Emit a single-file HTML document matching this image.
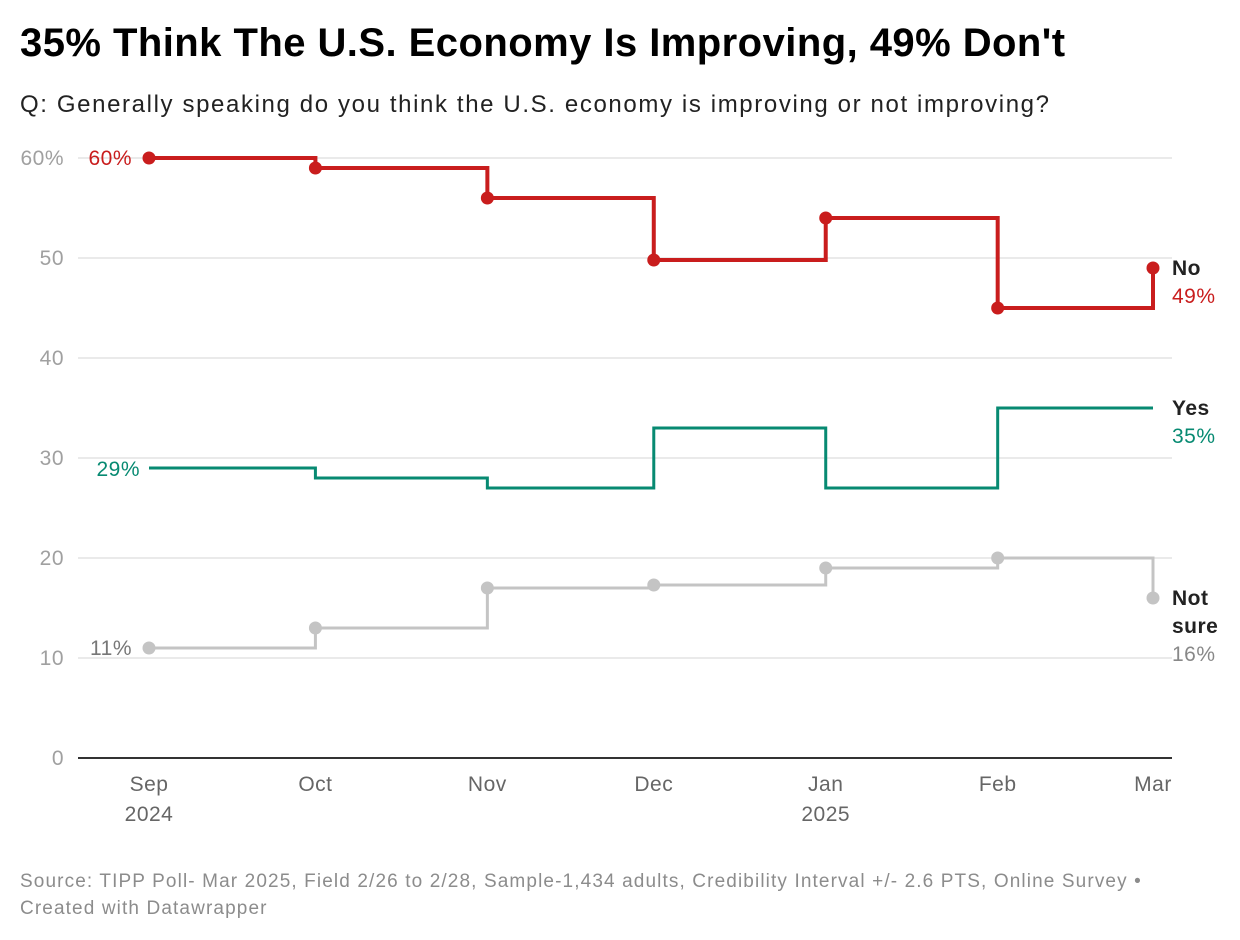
<!DOCTYPE html>
<html><head><meta charset="utf-8"><style>
body{margin:0;background:#fff;font-family:"Liberation Sans",sans-serif;}
#wrap{position:relative;width:1240px;height:940px;overflow:hidden}
h1{position:absolute;left:20px;top:21px;margin:0;font-size:40px;font-weight:bold;color:#000;letter-spacing:0.45px;white-space:nowrap}
.sub{position:absolute;left:20px;top:91px;font-size:24px;color:#222;letter-spacing:1.62px;white-space:nowrap}
.foot{position:absolute;left:20px;top:868px;font-size:19px;color:#8c8c8c;line-height:27px;letter-spacing:1.12px;white-space:nowrap}
svg{position:absolute;left:0;top:0}
</style></head><body>
<div id="wrap">
<h1>35% Think The U.S. Economy Is Improving, 49% Don't</h1>
<div class="sub">Q: Generally speaking do you think the U.S. economy is improving or not improving?</div>
<svg id="svg" width="1240" height="940"></svg>
<div class="foot">Source: TIPP Poll- Mar 2025, Field 2/26 to 2/28, Sample-1,434 adults, Credibility Interval +/- 2.6 PTS, Online Survey •<br>Created with Datawrapper</div>
</div>
<script>
const dayOffsets=[0,30,61,91,122,153,181];
const noValues=[60,59,56,49.8,54,45,49];
const yesValues=[29,28,27,33,27,35,35];
const notSureValues=[11,13,17,17.3,19,20,16];
const yTicks=[0,10,20,30,40,50,60];
const xTickLabels=[["Sep","2024"],["Oct",""],["Nov",""],["Dec",""],["Jan","2025"],["Feb",""],["Mar",""]];
const NS="http://www.w3.org/2000/svg";
const svg=document.getElementById('svg');
const x=d=>149+d*(1004/181);
const y=v=>758-v*10;
function mk(t,a){const e=document.createElementNS(NS,t);for(const k in a)e.setAttribute(k,a[k]);svg.appendChild(e);return e;}
yTicks.forEach(v=>{
  const l=mk('line',{x1:78,x2:1172,y1:y(v),y2:y(v),stroke:v===0?'#333':'#e3e3e3','stroke-width':v===0?2:1.5});
  
  
  const t=mk('text',{x:64,y:y(v)+7,'text-anchor':'end','font-size':21,fill:'#a0a0a0','letter-spacing':0.5});
  t.textContent=v===60?'60%':v;
  
  
});
xTickLabels.forEach((lb,i)=>{
  const t=mk('text',{x:x(dayOffsets[i]),y:791,'text-anchor':'middle','font-size':21,fill:'#666','letter-spacing':0.5});
  t.textContent=lb[0];
  
  
  if(lb[1]){const t2=mk('text',{x:x(dayOffsets[i]),y:821,'text-anchor':'middle','font-size':21,fill:'#666','letter-spacing':0.5});t2.textContent=lb[1];
  
  }
});
function series(vals,color,name,dots){
  let d='M'+x(dayOffsets[0])+','+y(vals[0]);
  for(let i=1;i<vals.length;i++){d+='H'+x(dayOffsets[i])+'V'+y(vals[i]);}
  const p=mk('path',{d:d,fill:'none',stroke:color,'stroke-width':name==='no'?4:3});
  
  
  if(dots)vals.forEach((v,i)=>{const c=mk('circle',{cx:x(dayOffsets[i]),cy:y(v),r:6.5,fill:color});
    
    });
}
series(notSureValues,'#c4c4c4','not-sure',true);
series(yesValues,'#078a72','yes',false);
series(noValues,'#c91d1d','no',true);
function txt(s,xx,yy,col,anchor,bold,name){const t=mk('text',{x:xx,y:yy,'text-anchor':anchor,'font-size':21,fill:col,'font-weight':bold?'bold':'normal','letter-spacing':0.5});t.textContent=s;
  
  }
txt(noValues[0]+'%',132,y(noValues[0])+7,'#c91d1d','end',false,'no-start-label');
txt(yesValues[0]+'%',140,y(yesValues[0])+8,'#078a72','end',false,'yes-start-label');
txt(notSureValues[0]+'%',132,y(notSureValues[0])+7,'#777','end',false,'not-sure-start-label');
txt('No',1172,275,'#222','start',true,'no-legend-label');
txt(noValues[6]+'%',1172,303,'#c91d1d','start',false,'no-end-value');
txt('Yes',1172,415,'#222','start',true,'yes-legend-label');
txt(yesValues[6]+'%',1172,443,'#078a72','start',false,'yes-end-value');
txt('Not',1172,605,'#222','start',true,'not-sure-legend-label');
txt('sure',1172,633,'#222','start',true,'not-sure-legend-label-2');
txt(notSureValues[6]+'%',1172,661,'#888','start',false,'not-sure-end-value');
</script>
</body></html>
